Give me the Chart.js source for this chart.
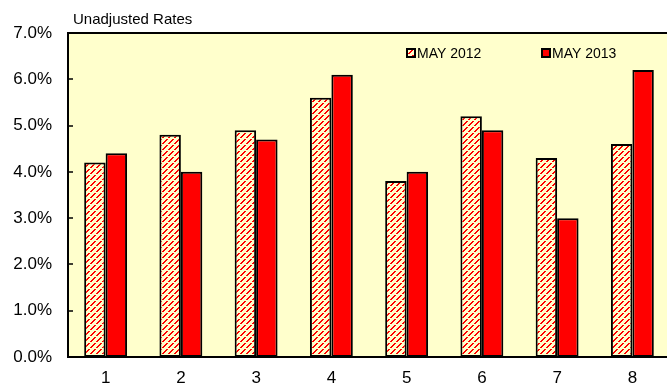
<!DOCTYPE html>
<html>
<head>
<meta charset="utf-8">
<script src="https://cdn.jsdelivr.net/npm/chart.js@4/dist/chart.umd.min.js"></script>
<style>
  html, body { margin: 0; padding: 0; background: #fff; overflow: hidden; }
  #wrap { width: 672px; height: 387px; }
</style>
</head>
<body>
<div id="wrap"><canvas id="c" width="672" height="387"></canvas></div>
<script>
// Unemployment rates by area, May 2012 vs May 2013
const categories = ['1', '2', '3', '4', '5', '6', '7', '8'];
const seriesNames = ['MAY 2012', 'MAY 2013'];
const may2012 = [4.2, 4.8, 4.9, 5.6, 3.8, 5.2, 4.3, 4.6];
const may2013 = [4.4, 4.0, 4.7, 6.1, 4.0, 4.9, 3.0, 6.2];
const yTicks = [0, 1, 2, 3, 4, 5, 6, 7];
const titleText = 'Unadjusted Rates';

const FONT = '"Liberation Sans", Arial, sans-serif';
const PLOT_BG = '#FFFFCC';
const RED = '#FF0000';

// Yellow tile crossed by a broken red upward diagonal
function makeHatch(ctx) {
  const t = document.createElement('canvas');
  t.width = 6; t.height = 6;
  const g = t.getContext('2d');
  g.fillStyle = PLOT_BG;
  g.fillRect(0, 0, 6, 6);
  g.fillStyle = RED;
  for (let x = 0; x < 5; x++) {
    g.fillRect(x, 5 - x, 2, 1);
  }
  return ctx.createPattern(t, 'repeat');
}

const canvas = document.getElementById('c');
const ctx = canvas.getContext('2d');
const hatch = makeHatch(ctx);

const framePlugin = {
  id: 'frame',
  beforeDraw(chart) {
    const a = chart.chartArea, c = chart.ctx;
    c.save();
    c.fillStyle = PLOT_BG;
    c.fillRect(a.left, a.top, a.right - a.left, a.bottom - a.top);
    c.restore();
  },
  afterDatasetsDraw(chart) {
    const a = chart.chartArea, c = chart.ctx;
    const y = chart.scales.y;
    c.save();
    c.strokeStyle = '#000';
    c.lineWidth = 2;
    c.strokeRect(a.left, a.top, a.right - a.left, a.bottom - a.top);
    // short inward tick marks on the value axis
    c.lineWidth = 1.5;
    c.beginPath();
    yTicks.forEach(v => {
      const py = Math.round(y.getPixelForValue(v));
      c.moveTo(a.left, py);
      c.lineTo(a.left + 5, py);
    });
    c.stroke();

    // title above the plot
    c.fillStyle = '#000';
    c.font = '15px ' + FONT;
    c.textBaseline = 'alphabetic';
    c.textAlign = 'left';
    c.fillText(titleText, a.left + 5, 24);

    // legend inside the plot, top right
    c.font = '14px ' + FONT;
    const items = chart.data.datasets.map(d => ({ label: d.label, fill: d.backgroundColor }));
    const xs = [a.left + 339, a.left + 474];
    items.forEach((it, i) => {
      const bx = xs[i], by = 49;
      c.fillStyle = it.fill;
      c.fillRect(bx, by, 8, 8);
      c.lineWidth = 2;
      c.strokeStyle = '#000';
      c.strokeRect(bx, by, 8, 8);
      c.fillStyle = '#000';
      c.fillText(it.label, bx + 10, 58);
    });
    c.restore();
  }
};

new Chart(ctx, {
  type: 'bar',
  data: {
    labels: categories,
    datasets: [
      {
        label: seriesNames[0],
        data: may2012,
        backgroundColor: hatch,
        borderColor: '#000',
        borderWidth: 2,
        borderSkipped: false
      },
      {
        label: seriesNames[1],
        data: may2013,
        backgroundColor: RED,
        borderColor: '#000',
        borderWidth: 2,
        borderSkipped: false
      }
    ]
  },
  options: {
    responsive: false,
    animation: false,
    events: [],
    layout: { padding: { top: 33, right: 2, left: 0, bottom: 0 } },
    datasets: { bar: { categoryPercentage: 0.57, barPercentage: 1.0 } },
    plugins: {
      legend: { display: false },
      title: { display: false },
      tooltip: { enabled: false }
    },
    scales: {
      x: {
        grid: { display: false, drawTicks: false },
        border: { display: false },
        ticks: { color: '#000', font: { family: FONT, size: 17 }, padding: 11, maxRotation: 0 },
        afterFit(s) { s.height = 30; }
      },
      y: {
        min: 0,
        max: 7,
        grid: { display: false, drawTicks: false },
        border: { display: false },
        afterBuildTicks(s) { s.ticks = yTicks.map(v => ({ value: v })); },
        ticks: {
          color: '#000',
          font: { family: FONT, size: 17 },
          padding: 16,
          callback: v => v.toFixed(1) + '%'
        },
        afterFit(s) { s.width = 68; }
      }
    }
  },
  plugins: [framePlugin]
});
</script>
</body>
</html>
